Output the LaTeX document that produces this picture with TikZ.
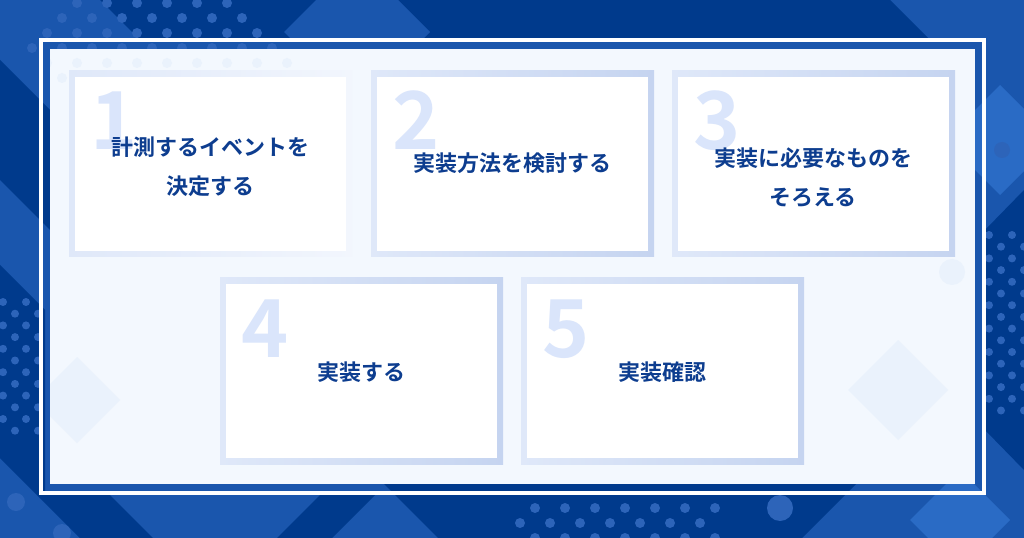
\documentclass[tikz,border=0pt]{standalone}
\usepackage{fontspec}
\usepackage{xcolor}
\newfontfamily\jpfont{Noto Sans CJK JP}[BoldFont={Noto Sans CJK JP Bold}]
\definecolor{bgmid}{HTML}{1A56AD}
\definecolor{bgdark}{HTML}{003A8C}
\definecolor{bglight}{HTML}{2A6BC5}
\definecolor{bgdot}{HTML}{2D64B9}
\definecolor{panelfill}{HTML}{F3F8FE}
\definecolor{panelshape}{HTML}{EAF2FC}
\definecolor{edgeleft}{HTML}{DFE8F9}
\definecolor{edgeright}{HTML}{C5D4F0}
\definecolor{edgefade}{HTML}{F2F6FD}
\definecolor{numblue}{HTML}{DAE5FB}
\definecolor{textblue}{HTML}{0D3D8F}

\begin{document}
\begin{tikzpicture}[x=0.75pt,y=-0.75pt,
    numlabel/.style={anchor=base west,inner sep=0pt,text=numblue,
      font=\jpfont\bfseries\fontsize{60pt}{60pt}\selectfont},
    boxtext/.style={align=center,inner sep=0pt,text=textblue,
      font=\jpfont\bfseries\fontsize{16.5pt}{29pt}\selectfont}]
\useasboundingbox (0,0) rectangle (1024,538);
\begin{scope}
  \clip (0,0) rectangle (1024,538);

  % background
  \fill[bgmid] (0,0) rectangle (1024,538);
  \fill[bgdark] (100,0) -- (890,0) -- (930,40) -- (140,40) -- cycle;
  \fill[bgmid] (357,-41) -- (430,32) -- (357,105) -- (284,32) -- cycle;
  \fill[bgdark] (0,60) -- (60,120) -- (60,240) -- (0,180) -- cycle;
  \fill[bgdark] (0,265) -- (45,310) -- (45,495) -- (110,495) -- (153,538)
    -- (80,538) -- (0,458) -- cycle;
  \fill[bgdark] (277,538) -- (320,495) -- (375,495) -- (332,538) -- cycle;
  \fill[bgdark] (438,538) -- (378,478) -- (862,478) -- (802,538) -- cycle;
  \fill[bgdark] (1024,190) -- (985,230) -- (985,430) -- (1024,470) -- cycle;
  \fill[bglight] (1000,85) -- (1055,140) -- (1000,195) -- (945,140) -- cycle;
  \fill[bglight] (960,470) -- (1010,520) -- (960,570) -- (910,520) -- cycle;
  \fill[bgdot] (62,533) circle[radius=9];
  \fill[bgdot] (16,502) circle[radius=9];
  \fill[bgdot] (780,508) circle[radius=13];
  \fill[bgdot] (1002,150) circle[radius=8];

  % dot grids
  \foreach \j in {0,...,3}{
    \pgfmathtruncatemacro{\kmax}{5+\j}
    \foreach \k in {0,...,\kmax}{
      \fill[bgdot] (77-15*\j+30*\k,3+15*\j) circle[radius=5];
    }
  }
  \foreach \j in {0,...,11}{
    \pgfmathtruncatemacro{\off}{12*mod(\j,2)}
    \foreach \k in {0,1}{
      \fill[bgdot] (3+\off+23*\k,302+11.7*\j) circle[radius=4];
    }
  }
  \foreach \j in {0,...,15}{
    \pgfmathtruncatemacro{\off}{12*mod(\j,2)}
    \foreach \k in {0,1}{
      \fill[bgdot] (989+\off+23*\k,235+11.7*\j) circle[radius=4];
    }
  }
  \foreach \j in {0,...,2}{
    \pgfmathtruncatemacro{\off}{15*mod(\j,2)}
    \foreach \k in {0,...,6}{
      \fill[bgdot] (535-\off+30*\k,508+15*\j) circle[radius=5];
    }
  }
\end{scope}

% frame and panel
\draw[white,line width=3pt] (41,40) rectangle (984,493);
\fill[panelfill] (50,49) rectangle (975,484);
\begin{scope}
  \clip (50,49) rectangle (975,484);
  \fill[panelshape] (898,340) -- (948,390) -- (898,440) -- (848,390) -- cycle;
  \fill[panelshape] (77,357) -- (120,400) -- (77,443) -- (34,400) -- cycle;
  \fill[panelshape] (952,272) circle[radius=13];
  \foreach \j in {4,5}{
    \foreach \k in {0,...,9}{
      \fill[panelshape] (77-15*\j+30*\k,3+15*\j) circle[radius=5];
    }
  }
\end{scope}

% steps
\foreach \bx/\by/\n/\edge in {69/71/1/edgefade,371/71/2/edgeright,672/71/3/edgeright,
                              220/278/4/edgeright,521/278/5/edgeright}{
  \shade[left color=edgeleft,right color=\edge] (\bx,\by) rectangle ++(283,186);
  \fill[white] (\bx+6,\by+6) rectangle ++(271,174);
  \node[numlabel] (num\n) at (\bx+21,\by+79) {\n};
}

\node[boxtext] (step1) at (210.5,166.5) {計測するイベントを\\決定する};
\node[boxtext] (step2) at (512,163) {実装方法を検討する};
\node[boxtext] (step3) at (813,177.5) {実装に必要なものを\\そろえる};
\node[boxtext] (step4) at (361,372) {実装する};
\node[boxtext] (step5) at (662,372) {実装確認};

\end{tikzpicture}
\end{document}
